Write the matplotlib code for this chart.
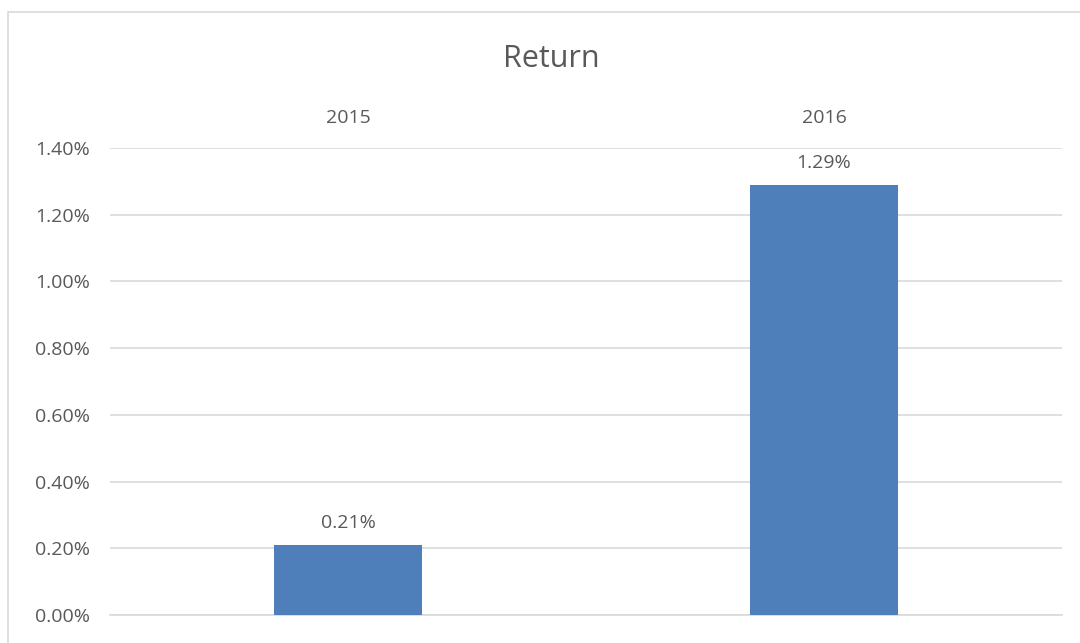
import matplotlib
matplotlib.use("Agg")
import matplotlib.pyplot as plt
from matplotlib.patches import Rectangle
from matplotlib.ticker import FuncFormatter

categories = ["2015", "2016"]
returns = [0.21, 1.29]  # percent
yticks = [0.0, 0.2, 0.4, 0.6, 0.8, 1.0, 1.2, 1.4]

plt.rcParams['font.family'] = ['Open Sans', 'DejaVu Sans']
text_color = "#595959"
grid_color = "#D9D9D9"
bar_color = "#4F7FBB"

fig = plt.figure(figsize=(10.8, 6.43), dpi=100)
W, H = 1080, 643
ax = fig.add_axes([110 / W, 1 - 615 / H, (1062 - 110) / W, (615 - 148) / H])

x = list(range(len(categories)))
bars = ax.bar(x, returns, width=0.31, color=bar_color, zorder=3)
for xi, v in zip(x, returns):
    ax.annotate(f"{v:.2f}%", (xi, v), xytext=(0, 9), textcoords="offset points",
                ha="center", va="bottom", fontsize=14, color=text_color)

ax.set_xlim(-0.5, len(categories) - 0.5)
ax.set_ylim(0, 1.4)
ax.set_yticks(yticks)
ax.yaxis.set_major_formatter(FuncFormatter(lambda v, p: f"{v:.2f}%"))
ax.set_xticks(x)
ax.set_xticklabels(categories)
ax.xaxis.tick_top()
ax.tick_params(axis="x", length=0, pad=15, labelsize=14, labelcolor=text_color)
ax.tick_params(axis="y", length=0, pad=14.5, labelsize=14, labelcolor=text_color)

ax.grid(axis="y", color=grid_color, linewidth=1.2, zorder=0)
for s in ["top", "right", "left"]:
    ax.spines[s].set_visible(False)
ax.spines["bottom"].set_color(grid_color)
ax.spines["bottom"].set_linewidth(1.2)

fig.text(551 / W, 1 - 67 / H, "Return", ha="center", va="baseline",
         fontsize=22, color=text_color)

fig.patches.append(Rectangle((8 / W, -0.1), 1.2, 1 - 12 / H + 0.1, transform=fig.transFigure,
                             fill=False, edgecolor=grid_color, linewidth=1.2, zorder=0))

fig.savefig("out.png", dpi=100)
